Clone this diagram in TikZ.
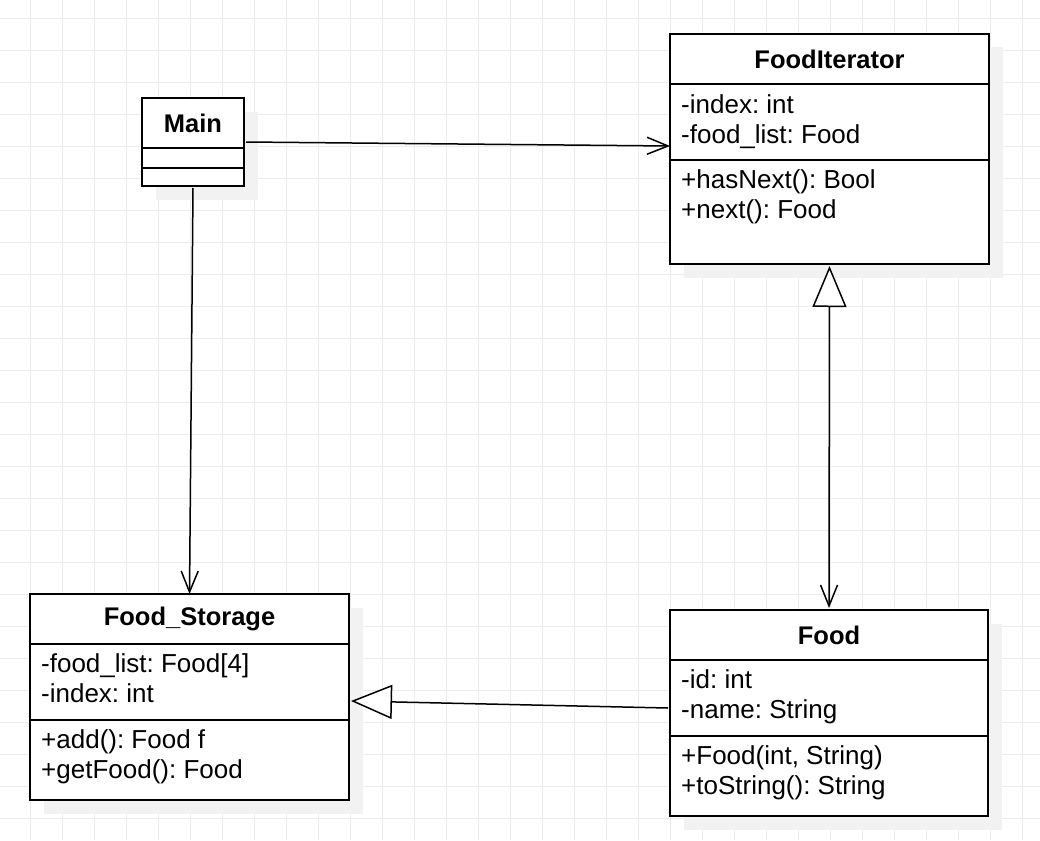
\documentclass[tikz,border=0pt]{standalone}
\usepackage{fontspec}
\setmainfont{Liberation Sans}
\usepackage{xcolor}
\usetikzlibrary{positioning,arrows.meta,backgrounds}
\frenchspacing
\definecolor{grid-gray}{HTML}{EDEDED}
\definecolor{shadow-gray}{HTML}{F2F2F2}
\tikzset{
    class-title/.style = {draw, fill=white, line width=2pt, rectangle, inner sep=0pt, outer sep=0pt, font=\fontsize{25.5}{30}\selectfont\bfseries},
    class-part/.style = {draw, fill=white, line width=2pt, rectangle, inner sep=0pt, outer sep=0pt},
    member-text/.style = {anchor=north west, align=left, inner sep=0pt, font=\fontsize{26}{30}\selectfont},
    class-shadow/.style = {fill=shadow-gray},
    grid-line/.style = {draw=grid-gray, line width=1pt},
    uses-arrow/.style = {line width=1.5pt, -{Straight Barb[length=21pt, width=17pt, line width=1.5pt]}},
    extends-arrow/.style = {line width=1.5pt, -{Triangle[length=41pt, width=34pt, fill=white, line width=1.5pt]}},
}

\begin{document}
\begin{tikzpicture}[x=1pt, y=-1pt]
\useasboundingbox (0,0) rectangle (1040,840);
\begin{pgfonlayer}{background}
\fill[white] (0,0) rectangle (1040,840);
\foreach \k in {0,...,31} \draw[grid-line] ({30.7+32*\k},0) -- ({30.7+32*\k},840);
\foreach \k in {0,...,25} \draw[grid-line] (0,{18.3+32*\k}) -- (1040,{18.3+32*\k});
\end{pgfonlayer}

\node[class-title, minimum width=102pt, minimum height=50pt, anchor=north west] (main-title) at (142,98) {Main};
\node[class-part, minimum width=102pt, minimum height=20pt, below=0pt of main-title] (main-attr) {};
\node[class-part, minimum width=102pt, minimum height=18pt, below=0pt of main-attr] (main-meth) {};

\node[class-title, minimum width=319pt, minimum height=50pt, anchor=north west] (iter-title) at (670,34) {FoodIterator};
\node[class-part, minimum width=319pt, minimum height=76pt, below=0pt of iter-title] (iter-attr) {};
\node[class-part, minimum width=319pt, minimum height=104pt, below=0pt of iter-attr] (iter-meth) {};
\node[member-text] (iter-attr-text) at ([xshift=11pt, yshift=-10pt]iter-attr.north west) {-index: int\\-food\_list: Food};
\node[member-text] (iter-meth-text) at ([xshift=11pt, yshift=-9.5pt]iter-meth.north west) {+hasNext(): Bool\\+next(): Food};

\node[class-title, minimum width=319pt, minimum height=50pt, anchor=north west] (store-title) at (30,594) {Food\_Storage};
\node[class-part, minimum width=319pt, minimum height=76pt, below=0pt of store-title] (store-attr) {};
\node[class-part, minimum width=319pt, minimum height=80pt, below=0pt of store-attr] (store-meth) {};
\node[member-text] (store-attr-text) at ([xshift=11pt, yshift=-9.5pt]store-attr.north west) {-food\_list: Food[4]\\-index: int};
\node[member-text] (store-meth-text) at ([xshift=11pt, yshift=-9.5pt]store-meth.north west) {+add(): Food f\\+getFood(): Food};

\node[class-title, minimum width=318pt, minimum height=50pt, anchor=north west] (food-title) at (670,610) {Food};
\node[class-part, minimum width=318pt, minimum height=76pt, below=0pt of food-title] (food-attr) {};
\node[class-part, minimum width=318pt, minimum height=80pt, below=0pt of food-attr] (food-meth) {};
\node[member-text] (food-attr-text) at ([xshift=11pt, yshift=-9.5pt]food-attr.north west) {-id: int\\-name: String};
\node[member-text] (food-meth-text) at ([xshift=11pt, yshift=-9.5pt]food-meth.north west) {+Food(int, String)\\+toString(): String};

\begin{pgfonlayer}{background}
\fill[class-shadow] ([shift={(14,14)}]main-title.north west) rectangle ([shift={(14,14)}]main-meth.south east);
\fill[class-shadow] ([shift={(13.5,13.5)}]iter-title.north west) rectangle ([shift={(13.5,13.5)}]iter-meth.south east);
\fill[class-shadow] ([shift={(13.5,13.5)}]store-title.north west) rectangle ([shift={(13.5,13.5)}]store-meth.south east);
\fill[class-shadow] ([shift={(13.5,13.5)}]food-title.north west) rectangle ([shift={(13.5,13.5)}]food-meth.south east);
\end{pgfonlayer}

\draw[uses-arrow] ([xshift=2pt, yshift=-19pt]main-title.east) -- ([yshift=-24pt]iter-attr.west);
\draw[uses-arrow] ([yshift=-2pt]main-meth.south) -- (store-title.north);
\draw[line width=1.5pt, {Triangle[length=41pt, width=34pt, fill=white, line width=1.5pt]}-{Straight Barb[length=21pt, width=17pt, line width=1.5pt]}] ([yshift=-2pt]iter-meth.south) -- ([yshift=2pt]food-title.north);
\draw[extends-arrow] ([xshift=-2pt, yshift=-10pt]food-attr.west) -- ([xshift=2pt, yshift=-19pt]store-attr.east);
\end{tikzpicture}
\end{document}
